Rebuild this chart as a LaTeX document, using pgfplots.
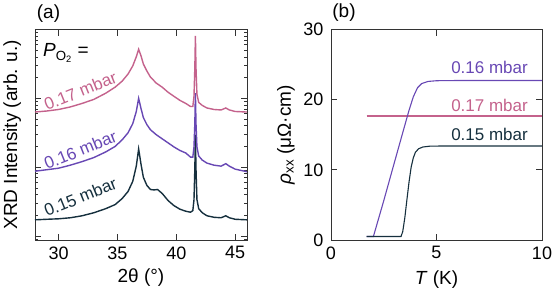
\documentclass[border=0pt]{standalone}
\usepackage{fontspec}
\setmainfont{Liberation Sans}
\usepackage{pgfplots}
\usepackage{pgfplotstable}
\pgfplotsset{compat=1.18}
\definecolor{cpink}{RGB}{196,98,140}
\definecolor{cpurple}{RGB}{104,72,180}
\definecolor{cdark}{RGB}{22,48,62}
\newcommand{\fs}[1]{\fontsize{#1}{#1}\selectfont}

% XRD, y = log10(intensity) in arbitrary units
\pgfplotstableread{
x L
28.0 0.235
29.0 0.243
30.0 0.250
31.0 0.265
32.0 0.294
33.0 0.338
34.0 0.397
34.8 0.456
35.4 0.544
35.9 0.647
36.3 0.794
36.6 1.015
36.8 1.265
37.0 1.044
37.2 0.853
37.5 0.735
37.8 0.676
38.1 0.669
38.4 0.676
38.8 0.618
39.3 0.515
39.8 0.441
40.3 0.390
40.8 0.360
41.2 0.346
41.4 0.368
41.5 0.529
41.57 0.971
41.62 1.470
41.67 0.971
41.75 0.529
41.9 0.397
42.2 0.338
42.6 0.294
43.2 0.272
43.8 0.265
44.2 0.294
44.5 0.265
45.0 0.243
46.0 0.235
}\xrdA

\pgfplotstableread{
x L
28.0 0.941
29.0 0.963
30.0 0.985
31.0 1.029
32.0 1.081
33.0 1.140
34.0 1.221
34.8 1.301
35.4 1.397
35.9 1.500
36.3 1.632
36.6 1.809
36.8 2.000
37.0 1.853
37.2 1.721
37.5 1.618
37.8 1.544
38.3 1.471
38.8 1.412
39.3 1.353
39.8 1.294
40.3 1.243
40.8 1.206
41.2 1.147
41.4 1.147
41.5 1.294
41.57 1.632
41.62 2.074
41.67 1.632
41.75 1.294
41.9 1.162
42.2 1.103
42.6 1.059
43.2 1.029
43.8 1.015
44.2 1.051
44.5 1.015
45.0 0.971
46.0 0.934
}\xrdB

\pgfplotstableread{
x L
28.0 1.801
29.0 1.816
30.0 1.838
31.0 1.875
32.0 1.926
33.0 1.985
34.0 2.074
34.8 2.162
35.4 2.250
35.9 2.353
36.3 2.471
36.6 2.603
36.8 2.713
37.0 2.618
37.2 2.500
37.5 2.397
37.8 2.309
38.3 2.221
38.8 2.162
39.3 2.088
39.8 2.029
40.3 1.971
40.8 1.926
41.2 1.882
41.4 1.882
41.5 2.029
41.57 2.441
41.62 2.907
41.67 2.441
41.75 2.059
41.9 1.941
42.2 1.897
42.6 1.860
43.2 1.838
43.8 1.831
44.2 1.860
44.5 1.831
45.0 1.809
46.0 1.801
}\xrdC

\begin{document}
\begin{tikzpicture}
\path[use as bounding box] (0pt,0pt) rectangle (555pt,295pt);

\pgfplotsset{
  mystyle/.style={
    scale only axis,
    anchor=south west,
    tick align=inside,
    major tick length=6pt,
    minor tick length=3pt,
    axis line style={black!80, line width=0.8pt},
    every tick/.style={black!80, line width=0.7pt},
    tick label style={font=\fs{18}},
    /pgf/number format/assume math mode=true,
    label style={font=\fs{19}},
  }
}

% ---------------- (a) ----------------
\begin{axis}[mystyle,
  at={(35pt,55pt)}, width=212pt, height=210.5pt,
  xmin=28, xmax=46, ymin=-0.058, ymax=3,
  xtick={30,35,40,45},
  ytick={0,1,2,3}, yticklabels={},
  minor ytick={-0.046,0.301,0.477,0.602,0.699,0.778,0.845,0.903,0.954,1.301,1.477,1.602,1.699,1.778,1.845,1.903,1.954,2.301,2.477,2.602,2.699,2.778,2.845,2.903,2.954},
  xticklabel style={yshift=-3pt},
  xlabel={2θ (°)},
  xlabel style={at={(axis description cs:0.5,-0.18)}, anchor=center},
  ylabel={XRD Intensity (arb. u.)},
  ylabel style={at={(axis description cs:-0.108,0.5)}, anchor=center},
]
\addplot[cdark, line width=1.4pt] table[x=x,y=L] {\xrdA};
\addplot[cpurple, line width=1.4pt] table[x=x,y=L] {\xrdB};
\addplot[cpink, line width=1.4pt] table[x=x,y=L] {\xrdC};
\end{axis}

% ---------------- (b) ----------------
\begin{axis}[mystyle,
  at={(331pt,55pt)}, width=211pt, height=210.5pt,
  xmin=0, xmax=10, ymin=0, ymax=30,
  xtick={0,5,10}, ytick={0,10,20,30},
  xticklabel style={yshift=-3pt},
  yticklabel style={xshift=-4pt},
  xlabel={\textit{T} (K)},
  xlabel style={at={(axis description cs:0.5,-0.19)}, anchor=center},
  ylabel={\textit{ρ}\textsubscript{xx} (μΩ·cm)},
  ylabel style={at={(axis description cs:-0.213,0.5)}, anchor=center},
]
\addplot[cpink, line width=1.1pt] coordinates {(1.69,17.67) (10,17.67)};
\addplot[cpurple, line width=1.1pt] coordinates {
(1.69,0.5) (2.01,0.5) (2.5,5.6) (3.0,11.0) (3.4,15.3) (3.7,18.5) (3.9,20.4)
(4.1,21.7) (4.3,22.3) (4.6,22.6) (5.0,22.7) (6.0,22.73) (10,22.73)};
\addplot[cdark, line width=1.1pt] coordinates {
(1.69,0.5) (3.32,0.5) (3.4,1.2) (3.5,3.2) (3.6,5.8) (3.7,8.3) (3.8,10.4)
(3.9,11.7) (4.0,12.5) (4.15,13.0) (4.35,13.25) (4.7,13.38) (5.5,13.4) (10,13.4)};
\end{axis}

% panel labels and annotations (absolute positions)
\node[font=\fs{19}] at (48.5pt,281.5pt) {(a)};
\node[font=\fs{19}] at (344pt,282.5pt) {(b)};
\node[font=\fs{19}, anchor=base west, inner sep=0pt] at (43pt,238pt) {\textit{P}\textsubscript{O\textsubscript{2}} =};
\node[font=\fs{17}, text=cpink, rotate=22, anchor=base west, inner sep=0pt] at (47pt,184pt) {0.17 mbar};
\node[font=\fs{17}, text=cpurple, rotate=22, anchor=base west, inner sep=0pt] at (47pt,125pt) {0.16 mbar};
\node[font=\fs{17}, text=cdark, rotate=22, anchor=base west, inner sep=0pt] at (47pt,78pt) {0.15 mbar};

\node[font=\fs{17}, text=cpurple, anchor=base east, inner sep=0pt] at (528pt,221pt) {0.16 mbar};
\node[font=\fs{17}, text=cpink, anchor=base east, inner sep=0pt] at (528pt,183.3pt) {0.17 mbar};
\node[font=\fs{17}, text=cdark, anchor=base east, inner sep=0pt] at (528pt,154pt) {0.15 mbar};
\end{tikzpicture}
\end{document}
